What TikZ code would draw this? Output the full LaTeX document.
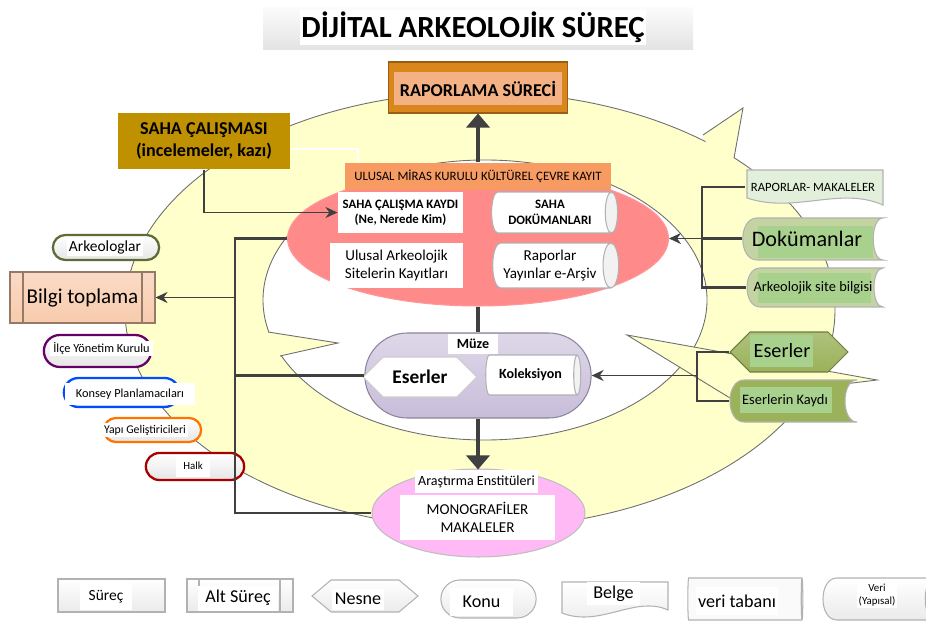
\documentclass[tikz,border=0pt]{standalone}
\usepackage{fontspec}
\setmainfont{Carlito}
\usetikzlibrary{arrows.meta, positioning, shapes.geometric, shapes.misc, shapes.symbols}
\definecolor{cring}{HTML}{FFFFCC}
\definecolor{cedge}{HTML}{6E6E6E}
\definecolor{cline}{HTML}{404040}
\definecolor{cred}{HTML}{FF8A8A}
\definecolor{chead}{HTML}{F79B62}
\definecolor{corange}{HTML}{D9861C}
\definecolor{cpeach}{HTML}{F4B183}
\definecolor{cgold}{HTML}{BF9000}
\definecolor{clilac}{HTML}{C8BDDA}
\definecolor{cpink}{HTML}{FFB9F5}
\definecolor{csalmon}{HTML}{F8CBAD}
\definecolor{cgreen}{HTML}{A9D18E}
\definecolor{csage}{HTML}{C4D3A2}
\definecolor{colive}{HTML}{9BB25A}
\definecolor{cmint}{HTML}{E2EFDA}
\tikzset{
  every picture/.style={line width=0.6pt},
  fs/.style={font=\fontsize{#1}{#1}\linespread{1.2}\selectfont},
  fsb/.style={font=\fontsize{#1}{#1}\linespread{1.2}\selectfont\bfseries},
  wbox/.style={fill=white, align=center, inner sep=1pt},
  pill/.style={rounded rectangle, draw=#1, line width=1.3pt, top color=white, bottom color=gray!20},
  cyl/.style={cylinder, shape aspect=0.45, draw=gray!60, cylinder uses custom fill,
    cylinder body fill=white, cylinder end fill=gray!10, align=center, inner sep=1pt},
  trunk/.style={draw=cline, line width=1.5pt},
  arr/.style={draw=cline, line width=1.1pt, -{Stealth[length=2.4mm, width=2.2mm]}},
  bigarr/.style={draw=cline, line width=2.4pt, -{Triangle[length=2.8mm, width=4.6mm]}},
  legend/.style={draw=gray!60, top color=white, bottom color=gray!16},
  ringline/.style={draw=cedge, line width=0.5pt},
  stored/.style={draw=gray!60, fill=#1},
}
\begin{document}
\begin{tikzpicture}[x=0.02cm, y=-0.02cm]
  \useasboundingbox (0,0) rectangle (926,621);
  % yellow ring with its three arrow heads
  \fill[cring, even odd rule] (480,310) ellipse [x radius=355, y radius=218]
                              (485,300) ellipse [x radius=222, y radius=140];
  \draw[ringline] (480,310) ellipse [x radius=355, y radius=218];
  \draw[ringline] (485,300) ellipse [x radius=222, y radius=140];
  \fill[cring] (703,135) -- (743,108) -- (727,195) -- cycle;
  \draw[ringline] (703,135) -- (743,108) -- (734,158);
  \fill[cring] (193,320) -- (338,343) -- (274,357) -- cycle;
  \draw[ringline] (268,332) -- (338,343) -- (280,356);
  \fill[cring] (627,335) -- (877,380) -- (730,398) -- cycle;
  \draw[ringline] (730,398) -- (627,335) -- (877,380) -- (730,398);

  % title
  \shade[top color=gray!3, bottom color=gray!22] (263,8) rectangle (693,50);
  \node[wbox, fsb=17.5, minimum width=6.4cm, minimum height=0.7cm] (title) at (473,27.5) {DİJİTAL ARKEOLOJİK SÜREÇ};

  % reporting and field work
  \node[draw=corange!70!black, fill=corange, minimum width=3.58cm, minimum height=1.02cm] (raporlama) at (478,87.5) {};
  \node[fill=cpeach, fsb=10.3, minimum width=3.3cm, minimum height=0.66cm] (raporlamatxt) at (478,89) {RAPORLAMA SÜRECİ};
  \node[fill=cgold, fsb=10.3, align=center, minimum width=3.44cm, minimum height=1.12cm] (saha) at (204,141) {SAHA ÇALIŞMASI\\(incelemeler, kazı)};

  % national heritage register
  \node[ellipse, draw=red!40, fill=cred, minimum width=7.62cm, minimum height=2.7cm, inner sep=0] (red) at (478,238.5) {};
  \node[fill=chead, fs=7.3, minimum width=5.34cm, minimum height=0.54cm] (ulusal) at (478,176.5) {ULUSAL MİRAS KURULU KÜLTÜREL ÇEVRE KAYIT};
  \node[wbox, fsb=7.3, minimum width=2.5cm, minimum height=0.82cm] (kaydi) at (400.5,212.5) {SAHA ÇALIŞMA KAYDI\\(Ne, Nerede Kim)};
  \node[wbox, fs=8.6, minimum width=2.66cm, minimum height=0.9cm] (ulusalark) at (396.5,265.5) {Ulusal Arkeolojik\\Sitelerin Kayıtları};
  \node[cyl, fsb=7.3, minimum height=2.52cm, minimum width=0.82cm] (sahadok) at (550,212.5) {SAHA\\DOKÜMANLARI};
  \node[cyl, fs=8.6, minimum height=2.52cm, minimum width=0.9cm] (rapyay) at (550,265.5) {Raporlar\\Yayınlar e-Arşiv};

  % museum
  \node[rounded rectangle, draw=clilac!70!black, top color=clilac!60, bottom color=clilac, minimum width=4.76cm, minimum height=1.7cm] (muze) at (478,375.5) {};
  \node[wbox, fsb=8, minimum width=1cm, minimum height=0.4cm] (muzelbl) at (473,344) {Müze};
  \node[signal, signal to=west and east, signal pointer angle=90, draw=gray!40, fill=white, fsb=11, minimum width=2.28cm, minimum height=0.8cm] (eserp) at (420,377) {Eserler};
  \node[cyl, fsb=8, minimum height=1.9cm, minimum width=0.8cm] (koleksiyon) at (530.5,375) {Koleksiyon};

  % research institutes
  \node[ellipse, draw=gray!50, fill=cpink, minimum width=4.26cm, minimum height=1.76cm, inner sep=0] (pink) at (478.5,513) {};
  \node[wbox, fs=8, minimum width=2.46cm, minimum height=0.46cm] (arastirma) at (476.5,481.5) {Araştırma Enstitüleri};
  \node[wbox, fs=8.6, minimum width=3.1cm, minimum height=0.9cm] (mono) at (477.5,517.5) {MONOGRAFİLER\\MAKALELER};

  % stakeholders, left
  \node[draw=csalmon!60!black, top color=csalmon!70, bottom color=csalmon, fs=12, minimum width=2.9cm, minimum height=1.02cm] (bilgi) at (82.5,297.5) {Bilgi toplama};
  \draw[csalmon!60!black] (23,272) -- (23,323) (142,272) -- (142,323);
  \node[pill=colive!60!black, minimum width=2.36cm, minimum height=0.5cm] (arkeo) at (106,247.5) {};
  \node[wbox, fs=8.8] (arkeotxt) at (105,247.5) {Arkeologlar};
  \node[pill=violet!80!black, minimum width=2.38cm, minimum height=0.64cm] (ilce) at (97.5,351) {};
  \node[wbox, fs=7, minimum width=2.06cm] (ilcetxt) at (101.5,348.5) {İlçe Yönetim Kurulu};
  \node[pill=blue!70!cyan, minimum width=2.54cm, minimum height=0.58cm] (konsey) at (121.5,392.5) {};
  \node[wbox, fs=7, minimum width=2.6cm, minimum height=0.44cm] (konseytxt) at (130,394) {Konsey Planlamacıları};
  \node[pill=orange!90!red, minimum width=2.18cm, minimum height=0.48cm] (yapi) at (152.5,430) {};
  \node[wbox, fs=6.7, minimum width=1.6cm] (yapitxt) at (145,430) {Yapı Geliştiricileri};
  \node[pill=red!65!black, minimum width=2.2cm, minimum height=0.54cm] (halk) at (195,466.5) {};
  \node[wbox, fs=6.2, minimum width=0.7cm, minimum height=0.44cm] (halktxt) at (193,466) {Halk};

  % sources, right
  \draw[stored=cmint] (747,170) -- (883,170) -- (883,205) .. controls (840,186) and (795,214) .. (747,198) -- cycle;
  \node[fs=7.2, minimum width=2.64cm, minimum height=0.6cm] (rapor) at (813,187) {RAPORLAR- MAKALELER};
  \draw[stored=csage] (757,218) -- (883,218) .. controls (870,218) and (870,260) .. (883,260)
        -- (757,260) .. controls (738,260) and (738,218) .. (757,218) -- cycle;
  \fill[cgreen] (758,226) rectangle (873,258);
  \node[fs=12.6, minimum width=2.56cm, minimum height=0.6cm] (dokum) at (807,238.5) {Dokümanlar};
  \draw[stored=csage] (760,268) -- (883,268) .. controls (871,268) and (871,307) .. (883,307)
        -- (760,307) .. controls (742.7,307) and (742.7,268) .. (760,268) -- cycle;
  \fill[cgreen] (758,273) rectangle (871,303);
  \node[fs=8.2, minimum width=2.64cm, minimum height=0.6cm] (arkeosite) at (813,287.5) {Arkeolojik site bilgisi};
  \node[signal, signal to=west and east, signal pointer angle=90, draw=colive!70!black, top color=colive!80, bottom color=colive, minimum width=2.36cm, minimum height=0.8cm] (eserg) at (789,352) {};
  \fill[cgreen] (750,335) rectangle (813,367);
  \node[fs=11.5] (esergtxt) at (782,351) {Eserler};
  \draw[stored=colive] (744,380) -- (857,380) .. controls (841,380) and (841,422) .. (857,422)
        -- (744,422) .. controls (725.3,422) and (725.3,380) .. (744,380) -- cycle;
  \fill[cgreen] (740,387) rectangle (832,413);
  \node[fs=8.2, minimum width=2.2cm, minimum height=0.6cm] (kayit) at (785,401) {Eserlerin Kaydı};

  % connectors
  \draw[bigarr] (ulusal.north) -- (raporlama.south);
  \draw[cline, line width=2.4pt] (red.south) -- (muze.north);
  \draw[bigarr] (muze.south) -- (muze.south |- arastirma.north);
  \draw[arr] (saha.south) |- (kaydi.west);
  \draw[gray!60, double=white, double distance=0.9pt, line width=0.4pt] ([yshift=-0.16cm]saha.east) -| ([xshift=0.28cm]ulusal.north west);
  \coordinate (ltop) at (235,238.5);
  \draw[trunk] (red.west) -- (ltop) -- (ltop |- pink.west) -- (pink.west);
  \draw[trunk] (ltop |- muze.west) -- (muze.west);
  \draw[arr] (ltop |- bilgi.east) -- (bilgi.east);
  \coordinate (rtop) at (702,187);
  \draw[trunk] (rapor.west) -- (rtop) -- (rtop |- arkeosite.west) -- (arkeosite.west);
  \draw[trunk] (rtop |- dokum.west) -- (dokum.west);
  \draw[arr] (rtop |- red.east) -- (red.east);
  \coordinate (rlow) at (697,352);
  \draw[trunk] (eserg.west) -- (rlow) -- (rlow |- kayit.west) -- (kayit.west);
  \draw[arr] (rlow |- muze.east) -- (muze.east);

  % legend
  \node[legend, minimum width=2.14cm, minimum height=0.66cm] (lsurec) at (111.5,595.5) {};
  \node[wbox, fs=8.8, minimum width=1.04cm, minimum height=0.54cm] (lsurectxt) at (106,596.5) {Süreç};
  \node[legend, minimum width=2.12cm, minimum height=0.66cm] (lalt) at (240,595.5) {};
  \draw[gray!60] (199,579) -- (199,612) (280,579) -- (280,612);
  \node[wbox, fs=10.3, minimum width=1.6cm, minimum height=0.5cm] (lalttxt) at (238,598) {Alt Süreç};
  \node[legend, signal, signal to=west and east, signal pointer angle=80, minimum width=2.12cm, minimum height=0.64cm] (lnesne) at (365,596) {};
  \node[wbox, fs=10.3, minimum width=1.04cm, minimum height=0.42cm] (lnesnetxt) at (358,599) {Nesne};
  \node[legend, rounded rectangle, minimum width=2.14cm, minimum height=0.76cm] (lkonu) at (488.5,599) {};
  \node[wbox, fs=10.3, minimum width=1.26cm, minimum height=0.56cm] (lkonutxt) at (481.5,602) {Konu};
  \draw[legend] (562,582) -- (668,582) -- (668,610) .. controls (635,595) and (600,628) .. (562,613) -- cycle;
  \node[wbox, fs=10.3, minimum width=1.06cm, minimum height=0.46cm] (lbelgetxt) at (613.5,593.5) {Belge};
  \node[cyl, cylinder body fill=gray!4, cylinder end fill=gray!12, minimum height=2.3cm, minimum width=0.84cm] (lveri) at (744.5,599) {};
  \node[wbox, fs=10.3, minimum height=0.56cm] (lveritxt) at (737,601) {veri tabanı};
  \draw[legend] (837,578) -- (935,578) .. controls (922,578) and (922,620) .. (935,620)
        -- (837,620) .. controls (818.3,620) and (818.3,578) .. (837,578) -- cycle;
  \node[wbox, fs=6.2, minimum width=0.8cm] (lyapitxt) at (877,595.5) {Veri\\(Yapısal)};
\end{tikzpicture}
\end{document}
